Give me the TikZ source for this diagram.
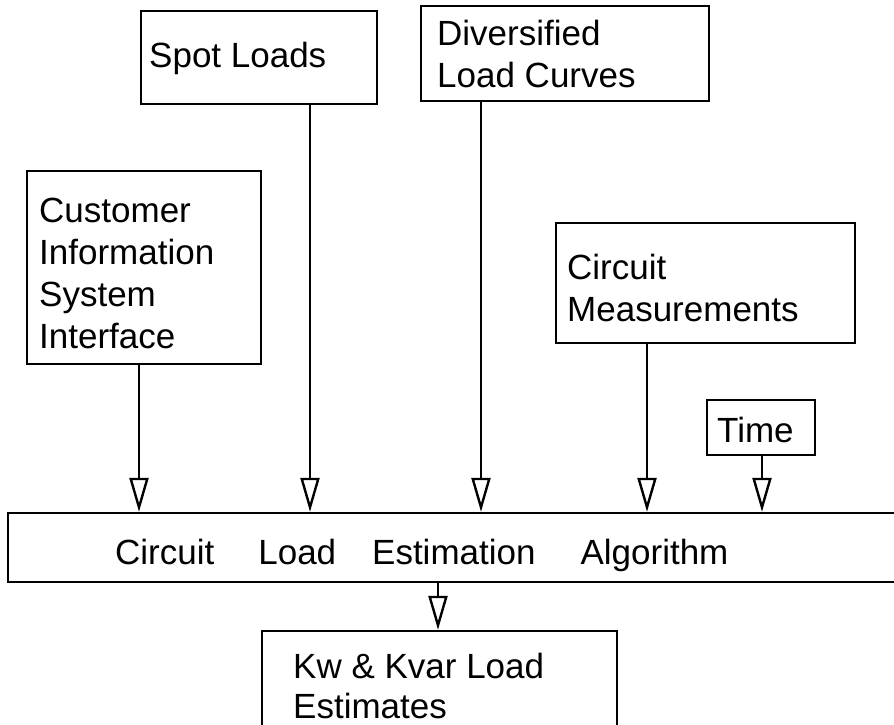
\documentclass[tikz,border=0pt]{standalone}
\usepackage{fontspec}
\setmainfont{Liberation Sans}
\usetikzlibrary{arrows.meta,fit}
\tikzset{
  box/.style={draw, line width=2.4pt, inner sep=0pt},
  % text blocks are placed by the baseline of their last line
  lbl/.style={anchor=base west, inner sep=0pt, align=left,
    font=\fontsize{35}{42}\selectfont},
  feed/.style={line width=2.4pt, -{Triangle[open, width=19pt, length=34pt, line width=2.4pt]}}
}
\begin{document}
\begin{tikzpicture}[x=1pt, y=-1pt]
\useasboundingbox (0,0) rectangle (894,725);
% input boxes
\node[box, fit={(141,11) (377,104)}] (spot) {};
\node[lbl] (spottxt) at (149,67) {Spot Loads};
\node[box, fit={(421,6) (709,101)}] (div) {};
\node[lbl] (divtxt) at (437,88) {Diversified\\Load Curves};
\node[box, fit={(27,171) (261,364)}] (cis) {};
\node[lbl] (cistxt) at (39,348) {Customer\\Information\\System\\Interface};
\node[box, fit={(556,223) (855,343)}] (cm) {};
\node[lbl] (cmtxt) at (567,321) {Circuit\\Measurements};
\node[box, fit={(707,400) (815,455)}] (time) {};
\node[lbl] (timetxt) at (717,442) {Time};
% algorithm and output
\node[box, fit={(8,513) (905,582)}] (alg) {};
\node[lbl] (algtxt) at (115,564) {Circuit\hspace{44pt}Load\hspace{36pt}Estimation\hspace{45pt}Algorithm};
\node[box, fit={(262,631) (617,740)}] (kw) {};
\node[lbl, font=\fontsize{35}{40}\selectfont] (kwtxt) at (293,718) {Kw \& Kvar Load\\Estimates};
% connectors
\draw[feed] (cis.south -| 139,0) -- (alg.north -| 139,0);
\draw[feed] (spot.south -| 310,0) -- (alg.north -| 310,0);
\draw[feed] (div.south -| 481,0) -- (alg.north -| 481,0);
\draw[feed] (cm.south -| 647,0) -- (alg.north -| 647,0);
\draw[feed] (time.south -| 762,0) -- (alg.north -| 762,0);
\draw[feed] (alg.south -| 438,0) -- (kw.north -| 438,0);
\end{tikzpicture}
\end{document}
